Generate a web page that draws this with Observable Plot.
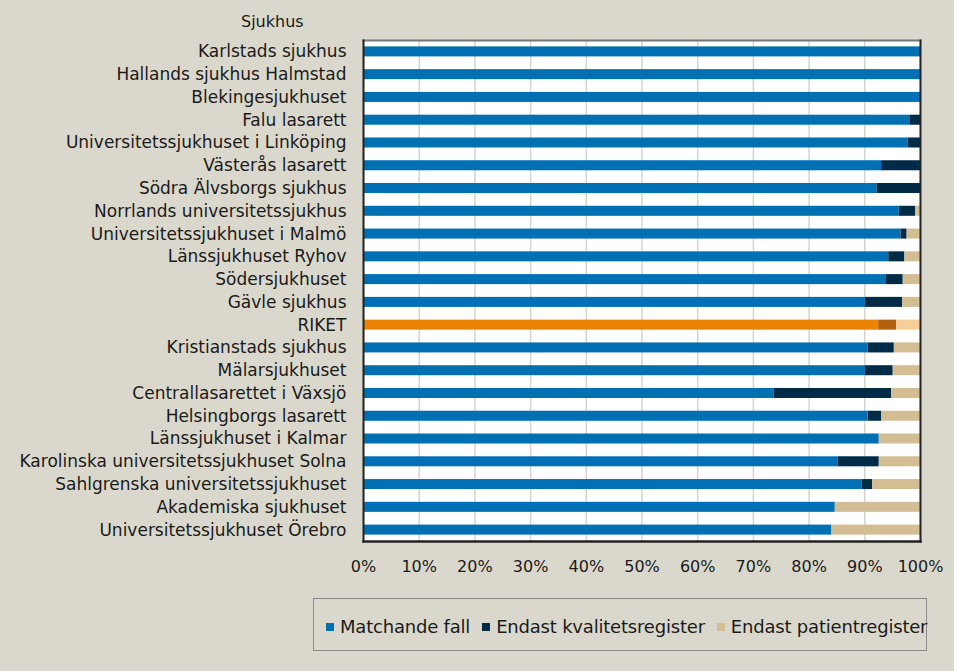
<!DOCTYPE html>
<html>
<head>
<meta charset="utf-8">
<script src="https://cdn.jsdelivr.net/npm/d3@7"></script>
<script src="https://cdn.jsdelivr.net/npm/@observablehq/plot@0.6"></script>
<style>
  html, body { margin: 0; padding: 0; background: #dad8cc; }
  body { width: 954px; height: 671px; position: relative; overflow: hidden; font-family: "DejaVu Sans", sans-serif; color: #1a1a1a; }
  #chart { position: absolute; left: 0; top: 0; }
  #title { position: absolute; left: 241px; top: 12px; font-size: 16px; }
  #legend { position: absolute; left: 313px; top: 598px; width: 614px; height: 53px; border: 1.5px solid #8a8a8a; box-sizing: border-box; display: flex; align-items: center; padding-left: 12px; padding-top: 3px; font-size: 18px; letter-spacing: -0.2px; white-space: nowrap; }
  #legend .sw { display: inline-block; width: 8px; height: 8px; margin-right: 6px; margin-top: 2px; }
  #legend .item { display: flex; align-items: center; margin-right: 12px; }
</style>
</head>
<body>
<div id="chart"></div>
<div id="title">Sjukhus</div>
<div id="legend"></div>
<script>
const hospitals = [
  "Karlstads sjukhus", "Hallands sjukhus Halmstad", "Blekingesjukhuset", "Falu lasarett",
  "Universitetssjukhuset i Linköping", "Västerås lasarett", "Södra Älvsborgs sjukhus",
  "Norrlands universitetssjukhus", "Universitetssjukhuset i Malmö", "Länssjukhuset Ryhov",
  "Södersjukhuset", "Gävle sjukhus", "RIKET", "Kristianstads sjukhus", "Mälarsjukhuset",
  "Centrallasarettet i Växsjö", "Helsingborgs lasarett", "Länssjukhuset i Kalmar",
  "Karolinska universitetssjukhuset Solna", "Sahlgrenska universitetssjukhuset",
  "Akademiska sjukhuset", "Universitetssjukhuset Örebro"
];
const matchande = [100, 100, 100, 98.2, 97.8, 93.0, 92.2, 96.2, 96.5, 94.3, 93.9, 90.1, 92.5, 90.6, 90.1, 73.7, 90.6, 92.6, 85.2, 89.5, 84.7, 84.1];
const kvalitet  = [0, 0, 0, 1.8, 2.2, 7.0, 7.8, 2.9, 1.1, 2.9, 3.0, 6.7, 3.2, 4.7, 5.0, 21.1, 2.4, 0, 7.4, 1.9, 0, 0];
const patient   = [0, 0, 0, 0, 0, 0, 0, 0.9, 2.4, 2.8, 3.1, 3.2, 4.3, 4.7, 4.9, 5.2, 7.0, 7.4, 7.4, 8.6, 15.3, 15.9];
const seriesNames = ["Matchande fall", "Endast kvalitetsregister", "Endast patientregister"];
const xTicks = [0, 10, 20, 30, 40, 50, 60, 70, 80, 90, 100];

const colors = ["#0070b5", "#002b47", "#d3be94"];
const riketColors = ["#e98300", "#b3600f", "#f7cd98"];

const seriesValues = [matchande, kvalitet, patient];
const rows = [];
hospitals.forEach((h, i) => {
  seriesNames.forEach((s, j) => {
    rows.push({hospital: h, series: s, value: seriesValues[j][i],
      color: h === "RIKET" ? riketColors[j] : colors[j]});
  });
});

const font = "DejaVu Sans, sans-serif";
const chart = Plot.plot({
  width: 954,
  height: 600,
  marginLeft: 363,
  marginRight: 34,
  marginTop: 40,
  marginBottom: 59,
  style: {background: "transparent", fontFamily: font, fontSize: "16px", color: "#1a1a1a"},
  x: {domain: [0, 100], ticks: xTicks, tickFormat: d => d + "%", tickSize: 0, tickPadding: 19, label: null},
  y: {domain: hospitals, round: false, paddingInner: 0.56, paddingOuter: 0.28, tickSize: 0, tickPadding: 17, label: null},
  marks: [
    Plot.frame({fill: "white", stroke: "none"}),
    Plot.gridX(xTicks, {stroke: "#d6d4cc", strokeOpacity: 1, strokeWidth: 1.5}),
    Plot.barX(rows, {x: "value", y: "hospital", z: "series", order: seriesNames, fill: "color", insetTop: 0, insetBottom: 0}),
    Plot.frame({anchor: "top", stroke: "#777", strokeWidth: 2}),
    Plot.frame({anchor: "left", stroke: "#222", strokeWidth: 2}),
    Plot.frame({anchor: "bottom", stroke: "#222", strokeWidth: 2.5}),
    Plot.frame({anchor: "right", stroke: "#222", strokeWidth: 2})
  ]
});
chart.querySelectorAll("g[aria-label='y-axis tick label'] text").forEach(t => t.style.fontSize = "17px");
document.getElementById("chart").appendChild(chart);

const legend = document.getElementById("legend");
seriesNames.forEach((s, j) => {
  const item = document.createElement("span");
  item.className = "item";
  const sw = document.createElement("span");
  sw.className = "sw";
  sw.style.background = colors[j];
  item.appendChild(sw);
  item.appendChild(document.createTextNode(s));
  legend.appendChild(item);
});
</script>
</body>
</html>
